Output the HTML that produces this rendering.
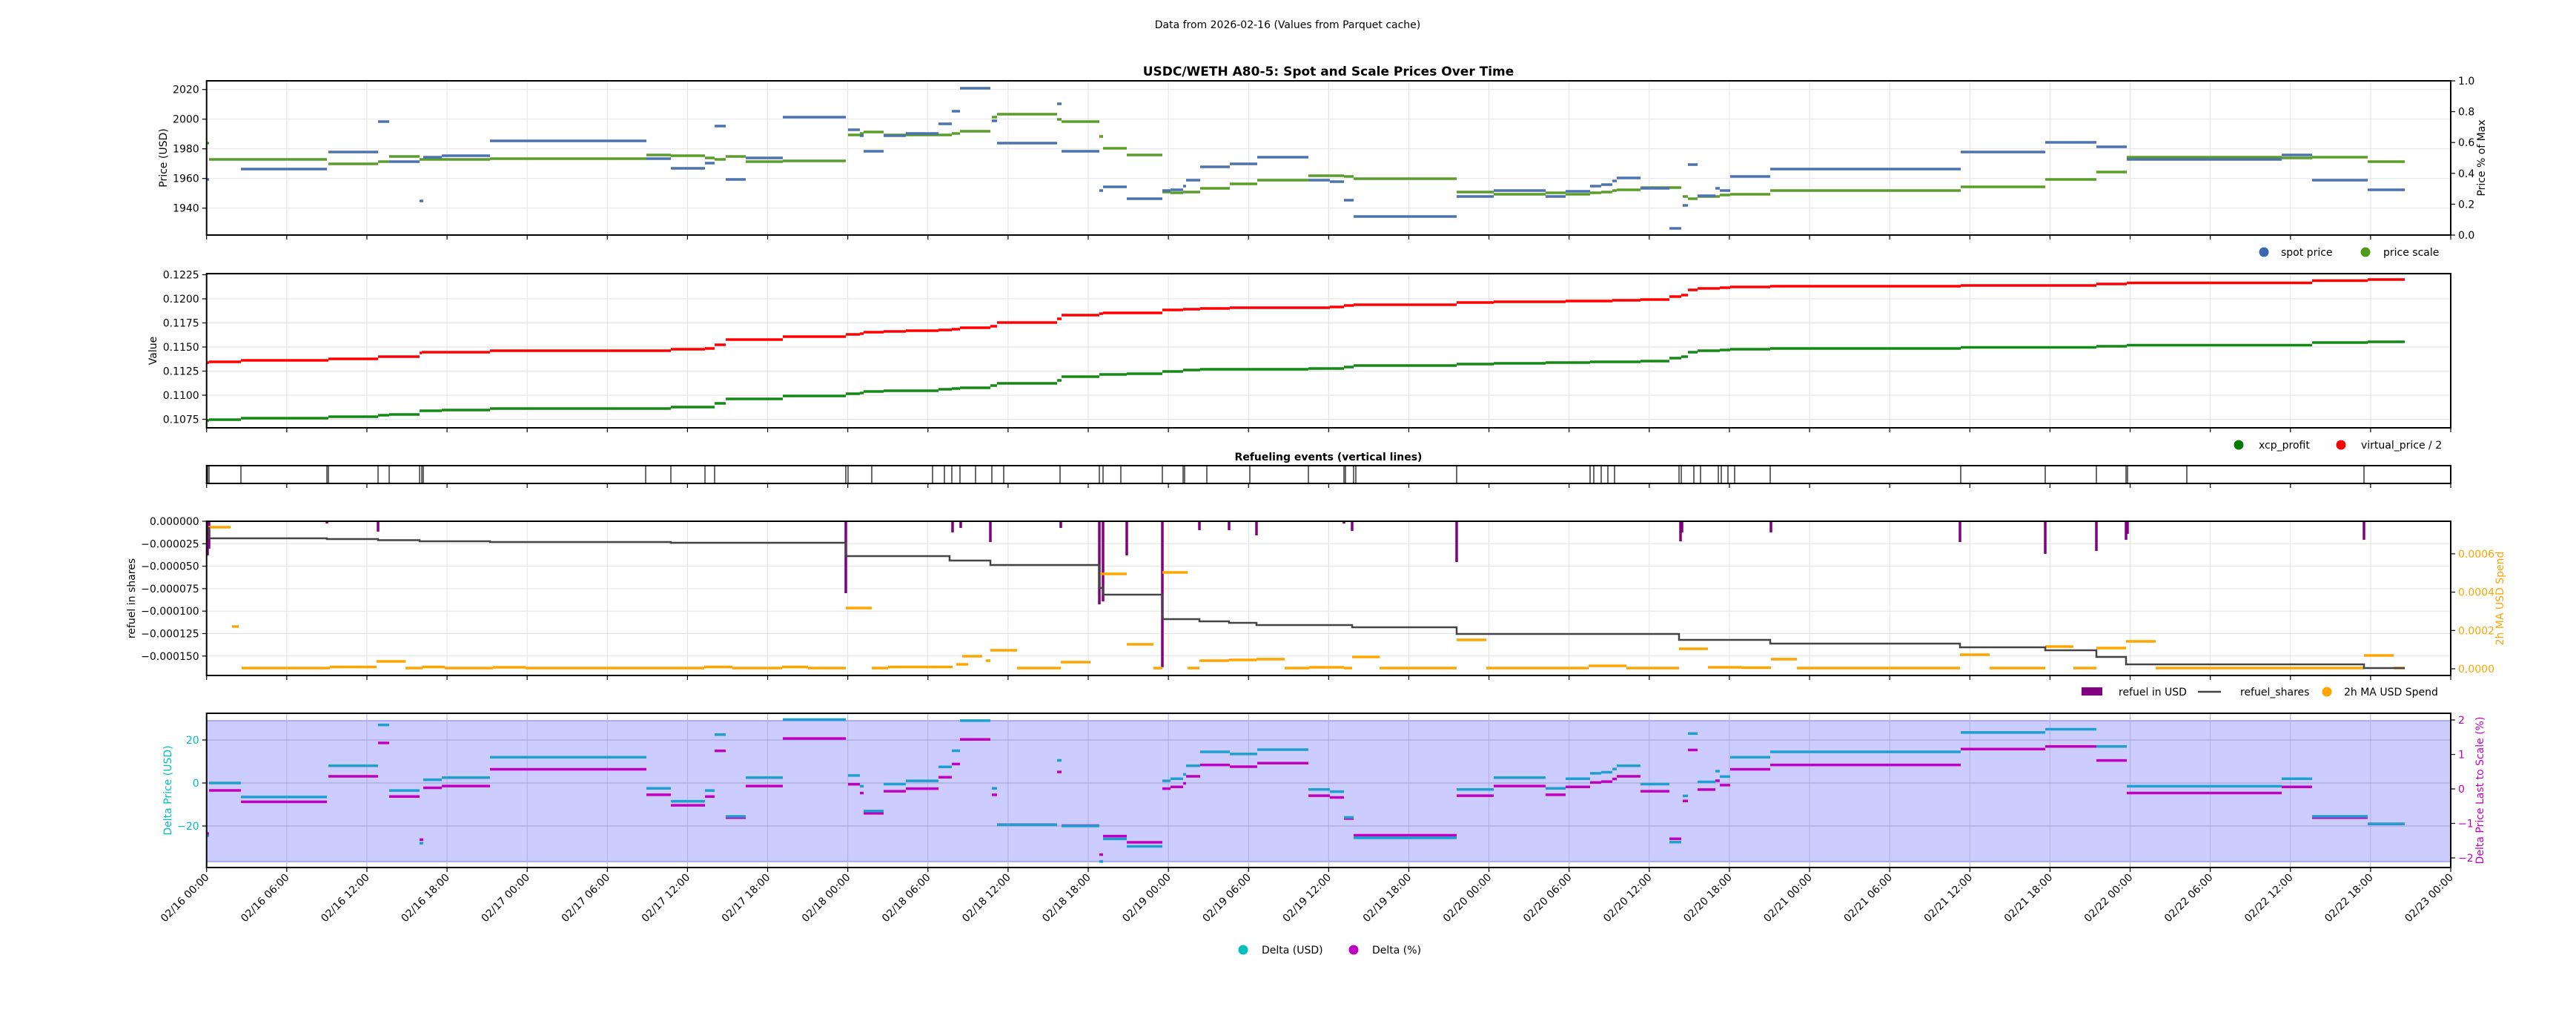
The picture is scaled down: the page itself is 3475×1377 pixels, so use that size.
<!DOCTYPE html>
<html><head><meta charset="utf-8"><style>
html,body{margin:0;padding:0;background:#fff;}
svg{display:block;font-family:"DejaVu Sans","Liberation Sans",sans-serif;}
</style></head><body>
<svg id="s" width="3475" height="1377" xmlns="http://www.w3.org/2000/svg">
<rect width="3475" height="1377" fill="#fff"/>
<text x="1737" y="38" font-size="14" text-anchor="middle">Data from 2026-02-16 (Values from Parquet cache)</text>
<text x="1792" y="102" font-size="17" font-weight="bold" text-anchor="middle">USDC/WETH A80-5: Spot and Scale Prices Over Time</text>
<text x="1792" y="621" font-size="14" font-weight="bold" text-anchor="middle">Refueling events (vertical lines)</text>
</svg>
<script>
const S=document.getElementById('s');const NS='http://www.w3.org/2000/svg';
function el(t,a,txt){const e=document.createElementNS(NS,t);for(const k in a)e.setAttribute(k,a[k]);if(txt!==undefined)e.textContent=txt;S.appendChild(e);return e;}
const L=278.7,R=3306,HW=(R-L)/28;
function line(x1,y1,x2,y2,c,w,extra){const a={x1,y1,x2,y2,stroke:c,'stroke-width':w};if(extra)Object.assign(a,extra);return el('line',a);}
function txt(x,y,s,opt){const a={x,y,'font-size':14};Object.assign(a,opt||{});return el('text',a,s);}
const panels=[[109,317],[369,577],[628,652],[703,911],[962,1170]];
el('rect',{x:L,y:972,width:R-L,height:190,fill:'#ccccff'});
line(L,972,R,972,'#9999ff',1.5);line(L,1162,R,1162,'#9999ff',1.5);
panels.forEach((p,i)=>{if(i==2)return;for(let k=1;k<28;k++){const x=L+k*HW;line(x,p[0],x,p[1],i==4?'#b0b0dd':'#e2e2e2',1);}});
function yt(vals,ys,grid,col,side){vals.forEach((v,i)=>{const y=ys[i];if(grid)line(L,y,R,y,grid,1);
 if(side=='L'){line(L-6,y,L,y,'#000',1.2);txt(L-10,y+5,v,{'text-anchor':'end',fill:col||'#000'});}
 else{line(R,y,R+6,y,'#000',1.2);txt(R+10,y+5,v,{fill:col||'#000'});}});}
yt(['2020','2000','1980','1960','1940'],[120.7,160.7,200.7,240.7,280.7],'#e2e2e2',null,'L');
yt(['1.0','0.8','0.6','0.4','0.2','0.0'],[109,150.6,192.2,233.8,275.4,317],null,null,'R');
yt(['0.1225','0.1200','0.1175','0.1150','0.1125','0.1100','0.1075'],[370.5,403,435.5,468,500.5,533,565.5],'#e2e2e2',null,'L');
yt(['0.000000','\u22120.000025','\u22120.000050','\u22120.000075','\u22120.000100','\u22120.000125','\u22120.000150'],[703,733.3,763.6,793.9,824.2,854.5,884.8],'#e2e2e2',null,'L');
yt(['0.0006','0.0004','0.0002','0.0000'],[746.9,798.6,850.3,902],null,'#ffa500','R');
yt(['20','0','\u221220'],[998,1056,1114],'#a0a0cc','#00bfbf','L');
yt(['2','1','0','\u22121','\u22122'],[971,1017.5,1064,1110.5,1157],null,'#c000c0','R');
const C=[[278,282,242,193],[282,325,215,215,1],[325,441,228,215],[443,510,205,221],[510,525,164,218],[525,566,218,211],[566,571,271,215],[571,596,212,215],[596,661,210,215],[661,872,190,214],[872,905,214,209],[905,951,227,210],[951,964,220,213],[964,979,170,215],[979,1006,242,211],[1006,1056,213,218],[1056,1141,158,217],[1144,1160,175,182],[1160,1165,183,180],[1165,1192,204,178],[1192,1222,183,182],[1222,1266,180,182],[1266,1284,167,182],[1284,1295,150,180],[1295,1336,119,177],[1338,1345,163,158],[1345,1426,193,154],[1426,1432,140,161],[1432,1483,204,164],[1483,1488,257,184],[1488,1520,252,200],[1520,1568,268,209],[1568,1579,257,259],[1579,1596,256,260],[1596,1600,251,259],[1600,1619,243,259],[1619,1659,225,254],[1659,1696,221,248],[1696,1765,212,243],[1765,1794,243,237],[1794,1813,245,237],[1813,1826,270,238],[1826,1965,292,241],[1965,2015,265,259],[2015,2085,257,262],[2085,2112,265,260],[2112,2145,258,262],[2145,2160,251,260],[2160,2175,249,259],[2175,2181,244,257],[2181,2213,240,256],[2213,2252,254,253],[2252,2268,308,253],[2270,2277,277,265],[2277,2290,222,268],[2290,2314,264,265],[2314,2320,254,265],[2320,2334,257,263],[2334,2388,238,262],[2388,2645,228,257],[2645,2759,205,252],[2759,2828,192,242],[2828,2869,198,232],[2869,3078,215,212],[3078,3119,209,213],[3119,3194,243,212],[3194,3244,256,218]];
C.forEach(s=>{line(s[0],s[3],s[1],s[3],'#5a9e2a',3.5);});
C.forEach(s=>{if(!s[4])line(s[0],s[2],s[1],s[2],'#4c72b0',3.5);});
const RED=[[278,282,489],[282,325,488],[325,443,486],[443,510,484],[510,566,481],[566,569,476],[569,661,475],[661,905,473],[905,951,471],[951,964,470],[964,979,465],[979,1056,458],[1056,1141,454],[1141,1160,451],[1160,1165,450],[1165,1192,448],[1192,1222,447],[1222,1266,446],[1266,1284,445],[1284,1295,444],[1295,1336,442],[1336,1345,440],[1345,1426,435],[1426,1432,430],[1432,1483,425],[1483,1488,423],[1488,1568,422],[1568,1596,418],[1596,1619,417],[1619,1659,416],[1659,1794,415],[1794,1813,414],[1813,1826,412],[1826,1965,411],[1965,2015,408],[2015,2112,407],[2112,2175,406],[2175,2213,405],[2213,2252,404],[2252,2268,400],[2268,2277,398],[2277,2290,391],[2290,2320,389],[2320,2334,388],[2334,2388,387],[2388,2645,386],[2645,2828,385],[2828,2869,383],[2869,3119,381.5],[3119,3194,378.5],[3194,3244,377]];
const GRN=[[278,282,567],[282,325,566],[325,443,564],[443,510,562],[510,525,560],[525,566,559],[566,596,554],[596,661,553],[661,905,551],[905,964,549],[964,979,544],[979,1056,538],[1056,1141,534],[1141,1160,531],[1160,1165,530],[1165,1192,528],[1192,1266,527],[1266,1284,525],[1284,1295,524],[1295,1336,523],[1336,1345,520],[1345,1426,517],[1426,1432,513],[1432,1483,508],[1483,1520,505],[1520,1568,504],[1568,1596,501],[1596,1619,499],[1619,1765,498],[1765,1813,497],[1813,1826,495],[1826,1965,493],[1965,2015,491],[2015,2085,490],[2085,2145,489],[2145,2213,488],[2213,2252,487],[2252,2268,483],[2268,2277,481],[2277,2290,475],[2290,2320,473],[2320,2334,472],[2334,2388,471],[2388,2645,470],[2645,2828,468.5],[2828,2869,467],[2869,3119,465.5],[3119,3194,462],[3194,3244,461]];
RED.forEach(s=>line(s[0],s[2],s[1],s[2],'#ff0000',3.5));
GRN.forEach(s=>line(s[0],s[2],s[1],s[2],'#138a13',3.5));
[280,282,325,441,443,510,525,566,569,571,871,905,951,964,1141,1144,1176,1258,1274,1284,1295,1316,1338,1354,1430,1483,1488,1512,1568,1596,1598,1628,1686,1765,1813,1815,1826,1829,1965,2145,2150,2160,2169,2178,2265,2268,2285,2294,2318,2322,2331,2340,2388,2645,2759,2828,2868,2870,2950,3189].forEach(x=>line(x,628,x,652,'#444',1.6));
[[280,749],[282,740],[441,706],[510,717],[1141,800],[1285,718],[1296,712],[1336,731],[1431,712],[1483,815],[1488,811],[1520,749],[1568,900],[1618,715],[1658,715],[1695,722],[1813,706],[1824,716],[1965,758],[2267,730],[2269,718],[2389,718],[2644,731],[2759,747],[2828,743],[2868,728],[2870,720],[3189,728]].forEach(b=>line(b[0],703,b[0],b[1],'#800080',3.5));
const OR=[[281,311,711],[313,322,845],[326,445,901],[445,508,899.5],[508,547,892],[547,570,901],[570,600,899.5],[600,665,901],[665,709,900],[709,950,901],[950,988,899.5],[988,1055,901],[1055,1090,899.5],[1090,1141,901],[1141,1176,820],[1176,1198,901],[1198,1285,899.5],[1290,1306,896],[1298,1325,885],[1330,1336,891],[1336,1372,877],[1372,1431,901],[1431,1471,893],[1483,1520,774],[1520,1556,869],[1556,1568,901],[1568,1602,772],[1602,1618,901],[1618,1658,891],[1658,1695,890],[1695,1733,889],[1733,1766,901],[1766,1813,900],[1813,1824,901],[1824,1861,886],[1861,1965,901],[1965,2005,863],[2005,2143,901],[2143,2194,898],[2194,2265,901],[2265,2304,875],[2304,2349,900],[2349,2389,900.5],[2389,2424,889],[2424,2644,901],[2644,2684,883],[2684,2759,901],[2759,2797,872],[2797,2828,901],[2828,2868,874],[2868,2908,865],[2908,3189,901],[3189,3229,884],[3229,3244,901]];
OR.forEach(s=>line(s[0],s[2],s[1],s[2],'#ffa500',3.5));
const BK=[[278,712],[282,726],[441,727],[510,728.5],[566,730],[661,731],[905,732],[1141,750],[1281,756],[1336,762],[1483,793],[1488,802],[1568,835],[1618,838],[1658,840],[1695,843],[1824,846],[1965,855],[2265,863],[2388,868],[2644,873],[2759,877],[2828,886],[2868,896],[3189,901],[3244,901]];
let d='M'+BK[0][0]+' '+BK[0][1];for(let i=1;i<BK.length;i++){d+=' L'+BK[i][0]+' '+BK[i-1][1]+' L'+BK[i][0]+' '+BK[i][1];}
el('path',{d,stroke:'#444',fill:'none','stroke-width':2.5});
C.forEach(s=>{const dd=s[3]-s[2];const yc=1056-dd*1.45,ym=1066-dd*1.186;
 line(s[0],ym,s[1],ym,'#c000c0',3.5);line(s[0],yc,s[1],yc,'#1f9fd0',3.5);});
panels.forEach(p=>{el('rect',{x:L,y:p[0],width:R-L,height:p[1]-p[0],fill:'none',stroke:'#000','stroke-width':2});
 for(let k=0;k<=28;k++){const x=L+k*HW;line(x,p[1],x,p[1]+6,'#000',1.2);}});
for(let k=0;k<=28;k++){const x=L+k*HW;const h=k*6;const day=16+Math.floor(h/24);const hh=h%24;
 const s='02/'+day+' '+(hh<10?'0':'')+hh+':00';
 txt(x+4,1184,s,{'text-anchor':'end',transform:'rotate(-45 '+(x+4)+' 1184)'});}
function vlab(x,y,s,col){txt(x,y,s,{'text-anchor':'middle',transform:'rotate(-90 '+x+' '+y+')',fill:col||'#000'});}
vlab(225,213,'Price (USD)');vlab(211,473,'Value');vlab(182,807,'refuel in shares');vlab(231,1066,'Delta Price (USD)','#00bfbf');
vlab(3352,213,'Price % of Max');vlab(3377,807,'2h MA USD Spend','#ffa500');vlab(3350,1066,'Delta Price Last to Scale (%)','#c000c0');
function dot(x,y,c){el('circle',{cx:x,cy:y,r:6.5,fill:c});}
dot(3054,340,'#3a67ad');txt(3077,345,'spot price');dot(3191,340,'#4f9a1a');txt(3215,345,'price scale');
dot(3020,600,'#007a00');txt(3047,605,'xcp_profit');dot(3158,600,'#ff0000');txt(3185,605,'virtual_price / 2');
el('rect',{x:2808,y:927,width:28,height:11,fill:'#800080'});txt(2858,938,'refuel in USD');
line(2965,933,2996,933,'#444',2.5);txt(3022,938,'refuel_shares');dot(3139,933,'#ffa500');txt(3162,938,'2h MA USD Spend');
dot(1677,1281,'#00bfbf');txt(1702,1286,'Delta (USD)');dot(1826,1281,'#c000c0');txt(1851,1286,'Delta (%)');
</script>
</body></html>
